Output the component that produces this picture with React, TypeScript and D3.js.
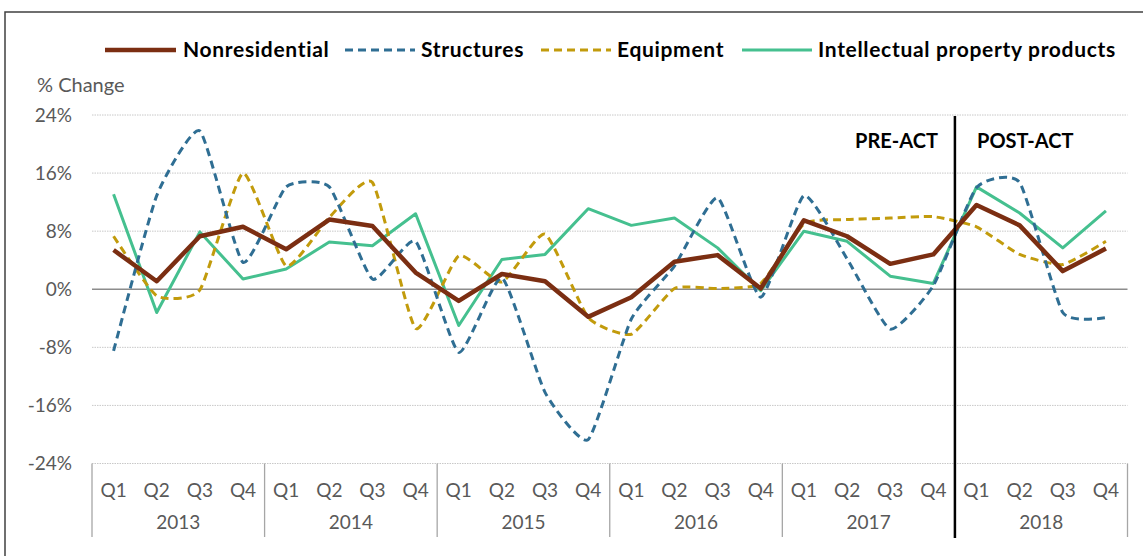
import React from "react";
import * as d3 from "d3";

const years = ["2013", "2014", "2015", "2016", "2017", "2018"];
const quarters = ["Q1", "Q2", "Q3", "Q4"];
const yTicks = [-24, -16, -8, 0, 8, 16, 24];

const nonresidential = [5.4, 1.1, 7.3, 8.6, 5.5, 9.6, 8.7, 2.3, -1.6, 2.1, 1.1, -3.8, -1.1, 3.8, 4.7, 0.1, 9.5, 7.3, 3.5, 4.8, 11.6, 8.8, 2.5, 5.6];
const structures = [-8.5, 12.9, 21.8, 3.7, 14.1, 14.1, 1.4, 6.6, -8.7, 1.6, -14.2, -20.7, -4.1, 3.2, 12.6, -1.1, 12.9, 4.2, -5.5, 0.5, 14.0, 14.7, -3.2, -3.9];
const equipment = [7.3, -0.9, -0.1, 16.0, 3.2, 9.9, 14.7, -5.4, 4.6, 1.0, 7.6, -3.9, -6.2, 0.1, 0.1, 0.8, 9.0, 9.6, 9.8, 10.0, 8.6, 4.8, 3.4, 6.6];
const ipp = [13.1, -3.2, 7.9, 1.4, 2.8, 6.5, 6.0, 10.4, -5.0, 4.1, 4.8, 11.1, 8.8, 9.8, 5.7, -0.2, 8.0, 6.6, 1.8, 0.8, 14.1, 10.5, 5.7, 10.8];

const seriesNames = ["Nonresidential", "Structures", "Equipment", "Intellectual property products"];

const FONT = "Lato, 'Open Sans', sans-serif";

export default function App() {
  const W = 1143;
  const H = 556;
  const left = 92;
  const right = 1127.5;
  const top = 115;
  const bottom = 463.5;

  const labels: string[] = [];
  years.forEach((yr) => quarters.forEach((q) => labels.push(yr + "-" + q)));

  const x = d3.scaleBand<string>().domain(labels).range([left, right]).paddingInner(0).paddingOuter(0);
  const y = d3.scaleLinear().domain([-24, 24]).range([bottom, top]);
  const cx = (i: number) => (x(labels[i]) as number) + x.bandwidth() / 2;

  const straight = d3.line<number>().x((_, i) => cx(i)).y((v) => y(v));
  const smooth = d3
    .line<number>()
    .x((_, i) => cx(i))
    .y((v) => y(v))
    .curve(d3.curveCardinal.tension(0.5));

  const series = [
    { name: seriesNames[0], data: nonresidential, color: "#7B2E12", width: 4.5, dash: "", gen: straight },
    { name: seriesNames[1], data: structures, color: "#2F6E93", width: 3, dash: "8,5", gen: smooth },
    { name: seriesNames[2], data: equipment, color: "#C29B0C", width: 3, dash: "8,5", gen: smooth },
    { name: seriesNames[3], data: ipp, color: "#45C08F", width: 3, dash: "", gen: straight },
  ];

  const legendPos = [
    { x1: 105, x2: 176, tx: 183 },
    { x1: 345, x2: 415, tx: 421 },
    { x1: 541, x2: 611, tx: 617 },
    { x1: 742, x2: 812, tx: 818 },
  ];

  const yearW = x.bandwidth() * 4;
  const actX = left + yearW * 5;

  return (
    <div style={{ position: "fixed", left: 0, top: 0 }}>
      <svg width={W} height={H} style={{ display: "block", background: "#fff" }}>
        <rect x={5} y={12} width={W + 10} height={H + 10} fill="#fff" stroke="#404040" strokeWidth={1.5} />

        {/* legend */}
        {series.map((s, i) => (
          <g key={s.name}>
            <line
              x1={legendPos[i].x1}
              x2={legendPos[i].x2}
              y1={50}
              y2={50}
              stroke={s.color}
              strokeWidth={s.width}
              strokeDasharray={s.dash || undefined}
            />
            <text x={legendPos[i].tx} y={57} fontFamily={FONT} fontWeight={700} fontSize={21} letterSpacing={0.68} fill="#000">
              {s.name}
            </text>
          </g>
        ))}

        <text x={37} y={92} fontFamily={FONT} fontSize={20} fill="#595959">
          % Change
        </text>

        {/* gridlines */}
        {yTicks.map((t) => (
          <g key={t}>
            <line
              x1={left}
              x2={right}
              y1={y(t)}
              y2={y(t)}
              stroke={t === 0 ? "#8c8c8c" : "#c8c8c8"}
              strokeWidth={t === 0 ? 1.3 : 1}
              strokeDasharray={t === 0 ? undefined : "1.5,1"}
            />
            <text x={72} y={y(t)} dy="0.36em" textAnchor="end" fontFamily={FONT} fontSize={19} fill="#595959">
              {t + "%"}
            </text>
          </g>
        ))}

        {/* category axis */}
        {d3.range(years.length + 1).map((k) => (
          <line key={"sep" + k} x1={left + yearW * k} x2={left + yearW * k} y1={bottom} y2={537} stroke="#a6a6a6" strokeWidth={1.3} />
        ))}
        {labels.map((l, i) => (
          <text key={l} x={cx(i)} y={497} textAnchor="middle" fontFamily={FONT} fontSize={19} fill="#595959">
            {quarters[i % 4]}
          </text>
        ))}
        {years.map((yr, k) => (
          <text key={yr} x={left + yearW * (k + 0.5)} y={529} textAnchor="middle" fontFamily={FONT} fontSize={19} fill="#595959">
            {yr}
          </text>
        ))}

        {/* series */}
        {series
          .slice()
          .reverse()
          .map((s) => (
            <path
              key={s.name}
              d={s.gen(s.data) as string}
              fill="none"
              stroke={s.color}
              strokeWidth={s.width}
              strokeDasharray={s.dash || undefined}
              strokeLinejoin="round"
            />
          ))}

        {/* act divider */}
        <line x1={actX} x2={actX} y1={116} y2={538} stroke="#000" strokeWidth={2.5} />
        <text x={938} y={148} textAnchor="end" fontFamily={FONT} fontWeight={700} fontSize={20} fill="#000">
          PRE-ACT
        </text>
        <text x={977} y={148} fontFamily={FONT} fontWeight={700} fontSize={20} fill="#000">
          POST-ACT
        </text>
      </svg>
    </div>
  );
}
